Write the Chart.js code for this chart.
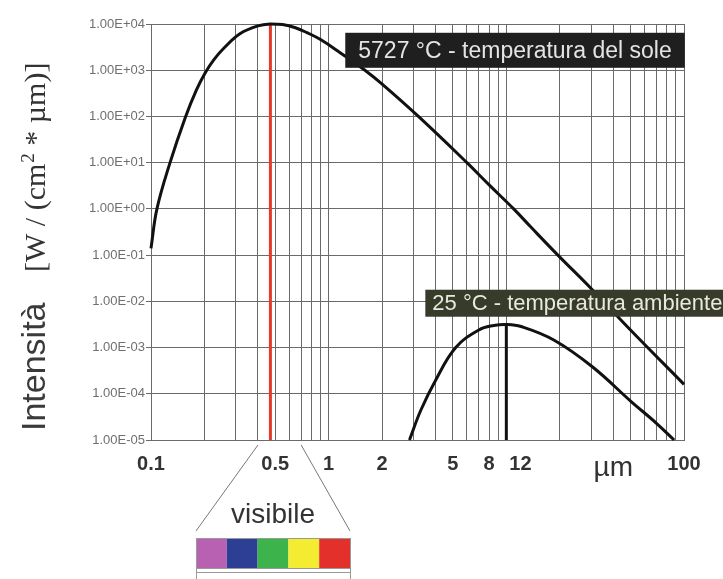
<!DOCTYPE html>
<html>
<head>
<meta charset="utf-8">
<script src="https://cdn.jsdelivr.net/npm/chart.js@4.4.1/dist/chart.umd.min.js"></script>
<style>
  html, body { margin: 0; padding: 0; background: #fff; }
  #wrap { width: 723px; height: 579px; position: relative; }
</style>
</head>
<body>
<div id="wrap"><canvas id="planck"></canvas></div>
<script>
// curves: wavelength (µm) -> intensity
const sunX = [0.1, 0.108, 0.128, 0.156, 0.18, 0.202, 0.225, 0.256, 0.318, 0.4, 0.47, 0.55, 0.65, 0.755, 0.9, 1.16, 1.6, 2, 3.2, 6, 8, 11, 13.7, 19.5, 30, 50, 100];
const sunY = [0.14, 1, 10, 95, 370, 880, 1650, 2950, 6200, 9100, 10000, 9700, 8300, 6500, 4600, 2400, 1000, 500, 100, 10, 3.3, 1, 0.41, 0.1, 0.019, 0.0024, 0.00016];

const roomX = [2.85, 3.3, 4, 5.19, 7, 8.5, 10, 12.1, 18.6, 30.6, 50.4, 70, 88];
const roomY = [1e-5, 4.4e-5, 1.97e-4, 1.0e-3, 2.4e-3, 3.0e-3, 3.16e-3, 2.85e-3, 1.44e-3, 3.8e-4, 6.8e-5, 2.3e-5, 1e-5];

// peak markers
const sunPeakX = 0.47;
const roomPeakX = 10;
const roomPeakY = 3.16e-3;

// axes
const xGrid = [0.1, 0.2, 0.3, 0.4, 0.5, 0.6, 0.7, 0.8, 0.9, 1, 2, 3, 4, 5, 6, 7, 8, 9, 10, 12, 20, 30, 40, 50, 60, 70, 80, 90, 100];
const xLabelValues = [0.1, 0.5, 1, 2, 5, 8, 12, 100];
const xLabelTexts = ["0.1", "0.5", "1", "2", "5", "8", "12", "100"];
const yTicks = [1e-5, 1e-4, 1e-3, 1e-2, 1e-1, 1, 1e1, 1e2, 1e3, 1e4];
const yTickLabels = ["1.00E-05", "1.00E-04", "1.00E-03", "1.00E-02", "1.00E-01", "1.00E+00", "1.00E+01", "1.00E+02", "1.00E+03", "1.00E+04"];

const visibleRange = [0.4, 0.7];
const visibleColors = ["#b861b3", "#2d3f95", "#3cb44b", "#f4ec30", "#e4302a"];

const SANS = '"Liberation Sans", Arial, sans-serif';
const SERIF = '"Liberation Serif", "Times New Roman", serif';

function pts(xs, ys) {
  return xs.map((v, i) => ({ x: v, y: ys[i] }));
}

const decor = {
  id: "decor",
  afterDraw(chart) {
    const { ctx, scales: { x, y } } = chart;
    ctx.save();

    // text boxes on the curves
    const boxes = [
      { text: "5727 °C - temperatura del sole", x: 1.24, y: 2700, font: "23px " + SANS, bg: "#1f1f1f", fg: "#e4e4e4", h: 35, pad: 13 },
      { text: "25 °C - temperatura ambiente", x: 3.5, y: 9.1e-3, font: "22px " + SANS, bg: "#373b2a", fg: "#e8e8dc", h: 27, pad: 7 },
    ];
    boxes.forEach((b) => {
      ctx.font = b.font;
      const w = ctx.measureText(b.text).width + b.pad * 2;
      const bx = x.getPixelForValue(b.x);
      const by = y.getPixelForValue(b.y);
      ctx.fillStyle = b.bg;
      ctx.fillRect(bx, by - b.h / 2, w, b.h);
      ctx.fillStyle = b.fg;
      ctx.textAlign = "left";
      ctx.textBaseline = "middle";
      ctx.fillText(b.text, bx + b.pad, by + 1);
    });

    // µm unit
    ctx.fillStyle = "#333";
    ctx.font = "28px " + SANS;
    ctx.textAlign = "center";
    ctx.textBaseline = "alphabetic";
    ctx.fillText("µm", x.getPixelForValue(40), 476);

    // y axis title, rotated
    ctx.save();
    ctx.translate(45, 431);
    ctx.rotate(-Math.PI / 2);
    ctx.textAlign = "left";
    ctx.fillStyle = "#3a3a3a";
    ctx.font = "34px " + SANS;
    ctx.fillText("Intensità", 0, 0);
    let cx = 159;
    ctx.fillStyle = "#333";
    ctx.font = "30px " + SERIF;
    ctx.fillText("[W / (cm", cx, 0);
    cx += ctx.measureText("[W / (cm").width;
    ctx.font = "19px " + SERIF;
    ctx.fillText("2", cx + 1, -11);
    cx += ctx.measureText("2").width + 1;
    ctx.font = "30px " + SERIF;
    ctx.fillText(" * µm)]", cx, 0);
    ctx.restore();

    // visible band zoom
    const left = 196, right = 350, barTop = 538, barH = 30;
    const bottom = chart.chartArea.bottom;
    ctx.strokeStyle = "#777";
    ctx.lineWidth = 1;
    ctx.beginPath();
    ctx.moveTo(x.getPixelForValue(visibleRange[0]), bottom + 5);
    ctx.lineTo(left, barTop - 7);
    ctx.moveTo(x.getPixelForValue(visibleRange[1]), bottom + 5);
    ctx.lineTo(right, barTop - 7);
    ctx.stroke();

    ctx.fillStyle = "#333";
    ctx.font = "28px " + SANS;
    ctx.textAlign = "center";
    ctx.fillText("visibile", (left + right) / 2, 523);

    const cw = (right - left) / visibleColors.length;
    visibleColors.forEach((c, i) => {
      ctx.fillStyle = c;
      ctx.fillRect(left + i * cw, barTop, cw, barH);
    });
    ctx.strokeStyle = "#999";
    ctx.strokeRect(left + 0.5, barTop + 0.5, right - left, barH);
    ctx.beginPath();
    ctx.moveTo(left + 0.5, barTop + barH);
    ctx.lineTo(left + 0.5, 579);
    ctx.moveTo(right + 0.5, barTop + barH);
    ctx.lineTo(right + 0.5, 579);
    ctx.moveTo(left, 572.5);
    ctx.lineTo(right, 572.5);
    ctx.stroke();

    ctx.restore();
  },
};

new Chart(document.getElementById("planck"), {
  type: "line",
  data: {
    datasets: [
      {
        data: pts(sunX, sunY),
        borderColor: "#111",
        borderWidth: 3,
        pointRadius: 0,
        tension: 0.4,
        clip: false,
        order: 0,
      },
      {
        data: pts(roomX, roomY),
        borderColor: "#111",
        borderWidth: 3,
        pointRadius: 0,
        tension: 0.4,
        clip: false,
        order: 0,
      },
      {
        data: [{ x: roomPeakX, y: yTicks[0] }, { x: roomPeakX, y: roomPeakY }],
        borderColor: "#111",
        borderWidth: 3,
        pointRadius: 0,
        order: 1,
      },
      {
        data: [{ x: sunPeakX, y: yTicks[0] }, { x: sunPeakX, y: yTicks[yTicks.length - 1] }],
        borderColor: "#e63a2c",
        borderWidth: 3,
        pointRadius: 0,
        order: 1,
      },
    ],
  },
  options: {
    responsive: true,
    maintainAspectRatio: false,
    animation: false,
    layout: { padding: { top: 24, right: 39, left: 0, bottom: 0 } },
    plugins: {
      legend: { display: false },
      tooltip: { enabled: false },
    },
    scales: {
      x: {
        type: "logarithmic",
        min: 0.1,
        max: 100,
        afterBuildTicks: (s) => {
          s.ticks = xGrid.map((v) => ({ value: v }));
        },
        afterFit: (s) => {
          s.height = 139;
        },
        ticks: {
          autoSkip: false,
          maxRotation: 0,
          padding: 12,
          color: "#333",
          font: { family: SANS, size: 20, weight: "bold" },
          callback: (v) => {
            const i = xLabelValues.indexOf(v);
            return i >= 0 ? xLabelTexts[i] : "";
          },
        },
        grid: {
          drawTicks: false,
          lineWidth: 1,
          color: (c) => (c.tick && c.tick.value === 12 ? "rgba(0,0,0,0)" : "#6a6a6a"),
        },
        border: { color: "#6a6a6a" },
      },
      y: {
        type: "logarithmic",
        min: 1e-5,
        max: 1e4,
        afterBuildTicks: (s) => {
          s.ticks = yTicks.map((v) => ({ value: v }));
        },
        afterFit: (s) => {
          s.width = 151;
        },
        ticks: {
          padding: 1,
          color: "#6f6f6f",
          font: { family: SANS, size: 13 },
          callback: (v) => yTickLabels[yTicks.indexOf(v)],
        },
        grid: { color: "#6a6a6a", lineWidth: 1, tickLength: 5 },
        border: { color: "#6a6a6a" },
      },
    },
  },
  plugins: [decor],
});
</script>
</body>
</html>
